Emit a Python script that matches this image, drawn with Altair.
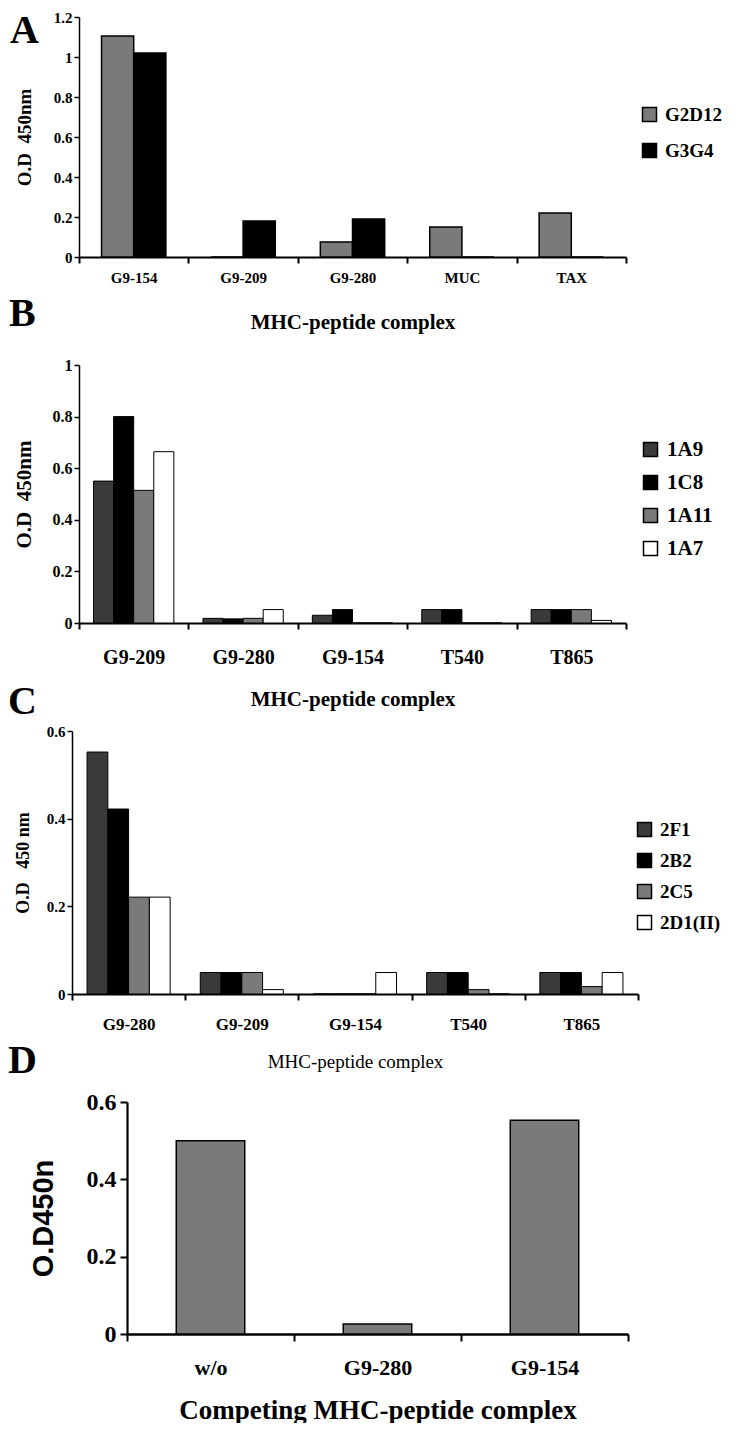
import altair as alt
import pandas as pd

SERIF = "Liberation Serif"
SANS = "Liberation Sans"

# ---------------- Panel A ----------------
a_complexes = ["G9-154", "G9-209", "G9-280", "MUC", "TAX"]
a_series = ["G2D12", "G3G4"]
a_colors = ["#7a7a7a", "#000000"]
a_g2d12 = [1.105, 0.0, 0.075, 0.15, 0.22]
a_g3g4 = [1.02, 0.18, 0.19, 0.0, 0.0]
a_yticks = [0, 0.2, 0.4, 0.6, 0.8, 1.0, 1.2]

# ---------------- Panel B ----------------
b_complexes = ["G9-209", "G9-280", "G9-154", "T540", "T865"]
b_series = ["1A9", "1C8", "1A11", "1A7"]
b_colors = ["#3a3a3a", "#000000", "#7a7a7a", "#ffffff"]
b_1a9 = [0.55, 0.018, 0.03, 0.052, 0.052]
b_1c8 = [0.80, 0.016, 0.052, 0.052, 0.052]
b_1a11 = [0.514, 0.018, 0.0, 0.0, 0.052]
b_1a7 = [0.664, 0.052, 0.0, 0.0, 0.01]
b_yticks = [0, 0.2, 0.4, 0.6, 0.8, 1.0]

# ---------------- Panel C ----------------
c_complexes = ["G9-280", "G9-209", "G9-154", "T540", "T865"]
c_series = ["2F1", "2B2", "2C5", "2D1(II)"]
c_colors = ["#3a3a3a", "#000000", "#7a7a7a", "#ffffff"]
c_2f1 = [0.552, 0.049, 0.0, 0.049, 0.049]
c_2b2 = [0.422, 0.049, 0.0, 0.049, 0.049]
c_2c5 = [0.221, 0.049, 0.0, 0.01, 0.017]
c_2d1 = [0.221, 0.01, 0.049, 0.0, 0.049]
c_yticks = [0, 0.2, 0.4, 0.6]

# ---------------- Panel D ----------------
d_complexes = ["w/o", "G9-280", "G9-154"]
d_values = [0.50, 0.026, 0.553]
d_yticks = [0, 0.2, 0.4, 0.6]


def long_df(complexes, series, columns):
    rows = []
    for s, vals in zip(series, columns):
        for c, v in zip(complexes, vals):
            rows.append({"complex": c, "series": s, "od": v})
    return pd.DataFrame(rows)


def letter_title(letter, dx, dy):
    return alt.TitleParams(
        text=letter, anchor="start", frame="group", orient="top", offset=0,
        dx=dx, dy=dy, fontSize=40, font=SERIF, fontWeight="bold",
        baseline="alphabetic", color="black",
    )


def grouped_panel(df, complexes, series, colors, *, shift, plot_w, plot_h,
                  ymax, yticks, ytitle, yt_size, yt_x, ylab_size,
                  xtitle_size, xtitle_weight, xlab_size, xlab_pad, xt_pad,
                  letter, l_dx, l_dy, leg_x, leg_y, leg_size, leg_rowpad,
                  off_pad, stroke_w):
    return alt.Chart(df).mark_bar(stroke="black", strokeWidth=stroke_w).encode(
        x=alt.X(
            "complex:N", sort=complexes,
            scale=alt.Scale(domain=complexes, range=[shift, shift + plot_w],
                            paddingInner=0, paddingOuter=0),
            axis=alt.Axis(
                title="MHC-peptide complex", labelAngle=0, tickBand="extent",
                labelFontSize=xlab_size, labelPadding=xlab_pad, tickSize=6,
                tickWidth=2, domainWidth=2.2, titleFontSize=xtitle_size,
                titleFontWeight=xtitle_weight, titlePadding=xt_pad,
            ),
        ),
        xOffset=alt.XOffset(
            "series:N", sort=series,
            scale=alt.Scale(domain=series, paddingInner=0, paddingOuter=off_pad),
        ),
        y=alt.Y(
            "od:Q",
            scale=alt.Scale(domain=[0, ymax], nice=False),
            axis=alt.Axis(
                values=yticks, format="~g", title=ytitle, titleFontSize=yt_size,
                titleX=yt_x, titleY=plot_h / 2, titleBaseline="middle",
                labelFontSize=ylab_size, labelPadding=2, tickSize=5,
                tickWidth=1.5, domainWidth=1.5, offset=-shift,
            ),
        ),
        color=alt.Color(
            "series:N", sort=series,
            scale=alt.Scale(domain=series, range=colors),
            legend=alt.Legend(
                title=None, orient="none", legendX=leg_x, legendY=leg_y,
                symbolType="square", symbolSize=196, symbolStrokeColor="black",
                symbolStrokeWidth=1.5, symbolOpacity=1, labelFontSize=leg_size,
                labelFont=SERIF, labelFontWeight="bold", labelColor="black",
                rowPadding=leg_rowpad, labelOffset=6,
            ),
        ),
    ).properties(
        width=shift + plot_w, height=plot_h, title=letter_title(letter, l_dx, l_dy)
    )


# Panel A
df_a = long_df(a_complexes, a_series, [a_g2d12, a_g3g4])
chart_a = grouped_panel(
    df_a, a_complexes, a_series, a_colors, shift=7, plot_w=547, plot_h=240,
    ymax=1.2, yticks=a_yticks, ytitle="O.D\u00a0\u00a0450nm", yt_size=19, yt_x=-55,
    ylab_size=15, xtitle_size=21, xtitle_weight="bold", xlab_size=15,
    xlab_pad=7, xt_pad=26, letter="A", l_dx=-62, l_dy=73, leg_x=568,
    leg_y=88, leg_size=19, leg_rowpad=15, off_pad=0.70, stroke_w=1.5,
)

# Panel B
df_b = long_df(b_complexes, b_series, [b_1a9, b_1c8, b_1a11, b_1a7])
chart_b = grouped_panel(
    df_b, b_complexes, b_series, b_colors, shift=7, plot_w=547, plot_h=258,
    ymax=1.0, yticks=b_yticks, ytitle="O.D\u00a0\u00a0450nm", yt_size=21, yt_x=-55,
    ylab_size=16, xtitle_size=21, xtitle_weight="bold", xlab_size=20,
    xlab_pad=18, xt_pad=21, letter="B", l_dx=-63, l_dy=9, leg_x=568,
    leg_y=74, leg_size=21, leg_rowpad=11, off_pad=0.725, stroke_w=1,
)

# Panel C
df_c = long_df(c_complexes, c_series, [c_2f1, c_2b2, c_2c5, c_2d1])
chart_c = grouped_panel(
    df_c, c_complexes, c_series, c_colors, shift=0, plot_w=566, plot_h=263,
    ymax=0.6, yticks=c_yticks, ytitle="O.D\u00a0\u00a0\u00a0450 nm", yt_size=18,
    yt_x=-49, ylab_size=15, xtitle_size=19, xtitle_weight="normal",
    xlab_size=17, xlab_pad=16, xt_pad=20, letter="C", l_dx=-64, l_dy=30,
    leg_x=563, leg_y=89, leg_size=19, leg_rowpad=10, off_pad=0.725, stroke_w=1,
)

# Panel D
df_d = pd.DataFrame({"complex": d_complexes, "od": d_values})
d_shift = 55
d_w = 501
chart_d = alt.Chart(df_d).mark_bar(
    color="#7a7a7a", stroke="black", strokeWidth=1.5,
    width=alt.RelativeBandSize(0.41),
).encode(
    x=alt.X(
        "complex:N", sort=d_complexes,
        scale=alt.Scale(domain=d_complexes, range=[d_shift, d_shift + d_w],
                        paddingInner=0, paddingOuter=0),
        axis=alt.Axis(
            title="Competing MHC-peptide complex", labelAngle=0, tickBand="extent",
            labelFontSize=22, labelPadding=16, tickSize=7, tickWidth=2,
            domainWidth=2.5, titleFontSize=27, titlePadding=19,
        ),
    ),
    y=alt.Y(
        "od:Q", scale=alt.Scale(domain=[0, 0.6], nice=False),
        axis=alt.Axis(
            values=d_yticks, format="~g", title="O.D450n", titleFont=SANS,
            titleFontSize=29, titleX=-84, titleY=116, titleBaseline="middle",
            labelFontSize=24, labelPadding=4, tickSize=7, tickWidth=2,
            domainWidth=2.2, offset=-d_shift,
        ),
    ),
).properties(width=d_shift + d_w, height=232, title=letter_title("D", -64, 23))

chart = alt.vconcat(
    chart_a, chart_b, chart_c, chart_d, spacing=108, bounds="flush"
).resolve_scale(
    x="independent", y="independent", xOffset="independent", color="independent"
).resolve_legend(
    color="independent"
).properties(
    padding={"left": 0, "top": 2, "right": 0, "bottom": 0}
).configure(
    font=SERIF
).configure_axis(
    grid=False, domainColor="black", tickColor="black", labelColor="black",
    titleColor="black", labelFont=SERIF, titleFont=SERIF,
    labelFontWeight="bold", titleFontWeight="bold",
).configure_view(stroke=None)

chart.save("out.html", embed_options={"renderer": "svg", "actions": False})
